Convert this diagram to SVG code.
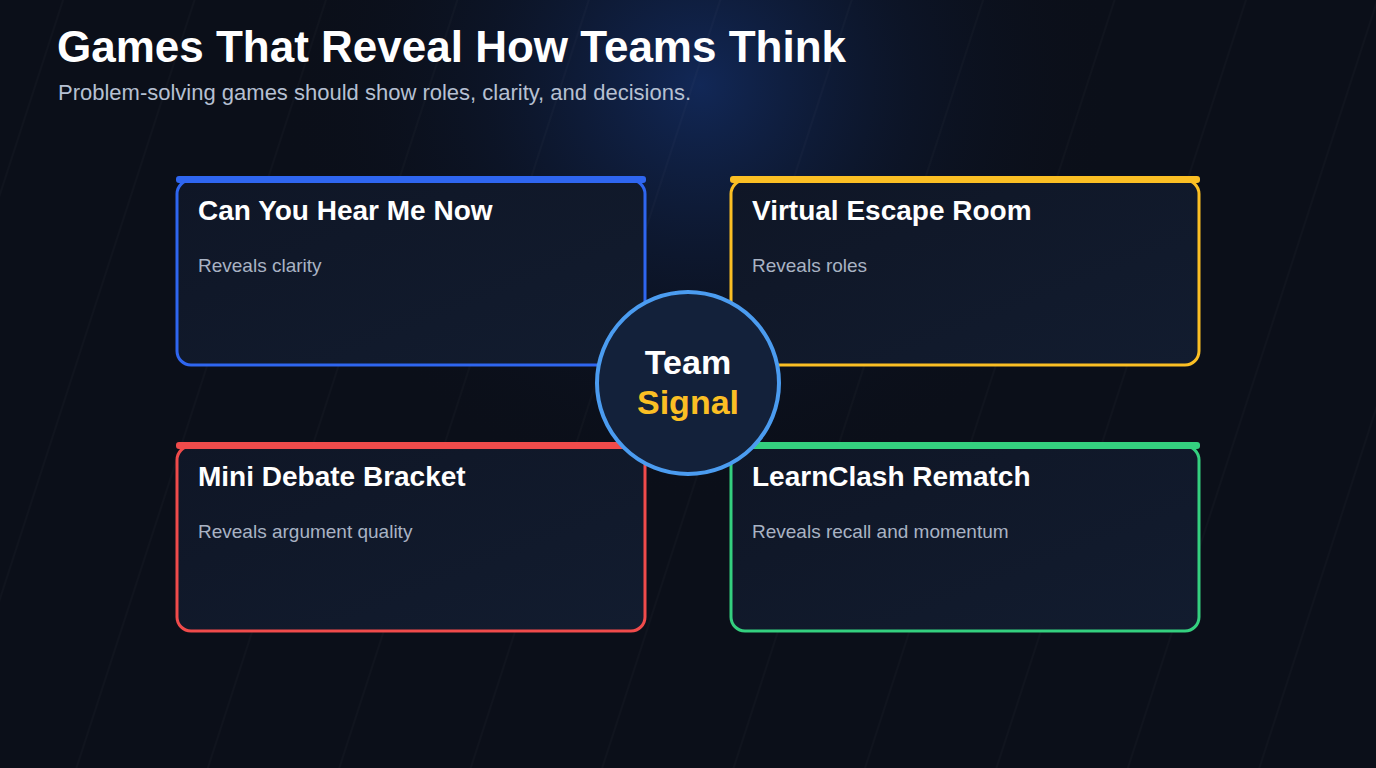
<svg xmlns="http://www.w3.org/2000/svg" width="1376" height="768" viewBox="0 0 1376 768">
<defs>
<radialGradient id="glow" cx="700" cy="85" r="420" gradientUnits="userSpaceOnUse">
<stop offset="0" stop-color="#12295a" stop-opacity="0.95"/>
<stop offset="0.5" stop-color="#0d1830" stop-opacity="0.6"/>
<stop offset="1" stop-color="#0b0f19" stop-opacity="0"/>
</radialGradient>
<linearGradient id="cardfill" x1="0" y1="0" x2="1" y2="1">
<stop offset="0" stop-color="#0f1626"/>
<stop offset="1" stop-color="#121c2f"/>
</linearGradient>
<pattern id="lines" width="125" height="768" patternUnits="userSpaceOnUse" patternTransform="rotate(18)">
<line x1="60" y1="0" x2="60" y2="768" stroke="#ffffff" stroke-opacity="0.025" stroke-width="1.5"/>
</pattern>
<style>
.title{font-family:"Liberation Sans",Arial,sans-serif;font-weight:700;font-size:44px;fill:#ffffff}
.sub{font-family:"Liberation Sans",Arial,sans-serif;font-size:22px;fill:#b6c0d2}
.ct{font-family:"Liberation Sans",Arial,sans-serif;font-weight:700;font-size:28px;fill:#ffffff}
.cs{font-family:"Liberation Sans",Arial,sans-serif;font-size:19px;fill:#a9b3c4}
.card{fill:url(#cardfill);stroke-width:3}
.hub{font-family:"Liberation Sans",Arial,sans-serif;font-weight:700;font-size:34px;text-anchor:middle}
</style>
</defs>
<rect width="1376" height="768" fill="#0b0f19"/>
<rect width="1376" height="768" fill="url(#glow)"/>
<rect width="1376" height="768" fill="url(#lines)"/>
<g id="header">
<text class="title" x="57" y="62">Games That Reveal How Teams Think</text>
<text class="sub" x="58" y="100">Problem-solving games should show roles, clarity, and decisions.</text>
</g>
<g id="connectors"></g>
<g id="card-hear">
<rect class="card" x="177" y="180" width="468" height="185" rx="14" stroke="#2f66f0"/>
<rect x="176" y="176" width="470" height="7" rx="3" fill="#2f66f0"/>
<text class="ct" x="198" y="220">Can You Hear Me Now</text>
<text class="cs" x="198" y="272">Reveals clarity</text>
</g>
<g id="card-escape">
<rect class="card" x="731" y="180" width="468" height="185" rx="14" stroke="#fbbf24"/>
<rect x="730" y="176" width="470" height="7" rx="3" fill="#fbbf24"/>
<text class="ct" x="752" y="220">Virtual Escape Room</text>
<text class="cs" x="752" y="272">Reveals roles</text>
</g>
<g id="card-debate">
<rect class="card" x="177" y="446" width="468" height="185" rx="14" stroke="#f04b4b"/>
<rect x="176" y="442" width="470" height="7" rx="3" fill="#f04b4b"/>
<text class="ct" x="198" y="486">Mini Debate Bracket</text>
<text class="cs" x="198" y="538">Reveals argument quality</text>
</g>
<g id="card-learnclash">
<rect class="card" x="731" y="446" width="468" height="185" rx="14" stroke="#34d07f"/>
<rect x="730" y="442" width="470" height="7" rx="3" fill="#34d07f"/>
<text class="ct" x="752" y="486">LearnClash Rematch</text>
<text class="cs" x="752" y="538">Reveals recall and momentum</text>
</g>
<g id="hub">
<circle cx="688" cy="383" r="91" fill="#13213a" stroke="#4b9cf0" stroke-width="4"/>
<text class="hub" x="688" y="374" fill="#ffffff">Team</text>
<text class="hub" x="688" y="414" fill="#fbbf24">Signal</text>
</g>
</svg>
